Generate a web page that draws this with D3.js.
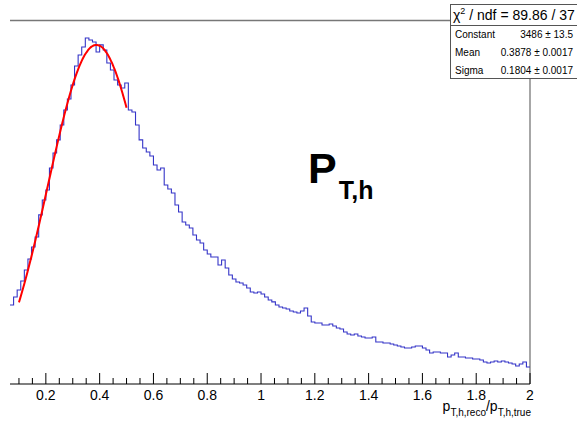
<!DOCTYPE html>
<html><head><meta charset="utf-8">
<script src="https://cdn.jsdelivr.net/npm/d3@7"></script>
<style>body{margin:0;background:#fff;}svg{display:block;font-family:"Liberation Sans",Arial,sans-serif;}</style>
</head><body>
<script>
// ---- data ----
const binStart = 0.0667;
const binWidth = 2 / 150;
const counts = [951,1029,1097,1185,1292,1400,1517,1614,1829,1975,
2072,2287,2433,2560,2706,2852,2959,3096,3281,3388,
3466,3554,3534,3515,3417,3486,3437,3310,3242,3144,
3096,3066,3115,2852,2832,2706,2560,2482,2443,2404,
2316,2267,2287,2121,2082,2043,1926,1858,1760,1731,
1702,1634,1585,1556,1487,1448,1419,1419,1341,1390,
1312,1244,1205,1175,1166,1146,1117,1078,1068,1078,
1058,1029,1000,981,951,932,922,912,893,883,
873,893,922,844,786,776,776,756,756,766,
747,727,717,688,669,659,669,649,639,630,
630,639,591,591,581,581,571,561,552,542,
532,532,542,552,552,532,513,483,493,493,
483,483,444,464,483,444,444,435,435,425,
425,415,396,386,396,405,396,405,396,386,
376,357,376,396,347];
const majorTicks = [0.2,0.4,0.6,0.8,1.0,1.2,1.4,1.6,1.8,2.0];
const tickLabels = ["0.2","0.4","0.6","0.8","1","1.2","1.4","1.6","1.8","2"];
const fitConstant = 3486, fitMean = 0.3878, fitSigma = 0.1804;
const fitRange = [0.1, 0.5];
const statsHeader = "/ ndf = 89.86 / 37";
const statsNames = ["Constant","Mean","Sigma"];
const statsValues = ["3486 \u00b1 13.5","0.3878 \u00b1 0.0017","0.1804 \u00b1 0.0017"];

// ---- drawing ----
const W = 577, H = 421;
const svg = d3.select("body").append("svg").attr("width", W).attr("height", H);
const x = d3.scaleLinear().domain([0.0667, 2]).range([10, 530]);
const y = d3.scaleLinear().domain([181, 3724]).range([384, 20.5]);

// frame top & right
svg.append("line").attr("x1",10).attr("x2",530).attr("y1",20.5).attr("y2",20.5).attr("stroke","#777").attr("stroke-width",1.3);
svg.append("line").attr("x1",530).attr("x2",530).attr("y1",20.5).attr("y2",384).attr("stroke","#777").attr("stroke-width",1.3);

// histogram
const pts = [];
counts.forEach((c,i)=>{
  const a = binStart + i*binWidth, b = a + binWidth;
  pts.push([x(a), y(c)]); pts.push([x(b), y(c)]);
});
svg.append("path").attr("d", d3.line()(pts)).attr("fill","none").attr("stroke","#3535c8").attr("stroke-width",1.1);

// fit
const fx = d3.range(fitRange[0], fitRange[1]+1e-9, 0.005);
const gauss = v => fitConstant*Math.exp(-0.5*Math.pow((v-fitMean)/fitSigma,2));
svg.append("path").attr("d", d3.line().x(v=>x(v)).y(v=>y(gauss(v))).curve(d3.curveMonotoneX)(fx))
  .attr("fill","none").attr("stroke","#ff0000").attr("stroke-width",2);

// x axis
const ax = svg.append("g");
ax.append("line").attr("x1",10).attr("x2",530).attr("y1",384).attr("y2",384).attr("stroke","#000").attr("stroke-width",1.2);
const minor = d3.range(0.1, 2.0001, 0.05).filter(v => !majorTicks.some(m => Math.abs(m-v) < 1e-6));
ax.selectAll(".mi").data(minor).enter().append("line")
  .attr("x1",d=>x(d)).attr("x2",d=>x(d)).attr("y1",384).attr("y2",378).attr("stroke","#000");
ax.selectAll(".ma").data(majorTicks).enter().append("line")
  .attr("x1",d=>x(d)).attr("x2",d=>x(d)).attr("y1",384).attr("y2",373).attr("stroke","#000");
ax.selectAll(".lb").data(majorTicks).enter().append("text")
  .attr("x",d=>x(d)).attr("y",400).attr("text-anchor","middle").attr("font-size",14).text((d,i)=>tickLabels[i]);

// axis title
const t = svg.append("text").attr("x",531).attr("y",411).attr("text-anchor","end").attr("font-size",14);
t.append("tspan").text("p");
t.append("tspan").attr("font-size",10).attr("dy",5).text("T,h,reco");
t.append("tspan").attr("dy",-5).text("/p");
t.append("tspan").attr("font-size",10).attr("dy",5).text("T,h,true");

// big label
const pl = svg.append("text").attr("x",308).attr("y",183).attr("font-weight","bold").attr("font-size",43);
pl.append("tspan").text("P");
pl.append("tspan").attr("font-size",25).attr("dy",16).attr("dx",2).text("T,h");

// stats box
const sb = svg.append("g");
sb.append("rect").attr("x",450.5).attr("y",4.5).attr("width",140).attr("height",74).attr("fill","#fff").attr("stroke","#555").attr("stroke-width",1);
sb.append("line").attr("x1",450.5).attr("x2",590).attr("y1",25.5).attr("y2",25.5).attr("stroke","#555");
const hd = sb.append("text").attr("x",453).attr("y",20).attr("font-size",14);
hd.append("tspan").text("\u03c7");
hd.append("tspan").attr("font-size",9).attr("dy",-6).text("2");
hd.append("tspan").attr("dy",6).text(" " + statsHeader);
statsNames.forEach((n,i)=>{
  sb.append("text").attr("x",455).attr("y",38+i*18).attr("font-size",10).text(n);
  sb.append("text").attr("x",573).attr("y",38+i*18).attr("font-size",10).attr("text-anchor","end").text(statsValues[i]);
});
</script>
</body></html>
